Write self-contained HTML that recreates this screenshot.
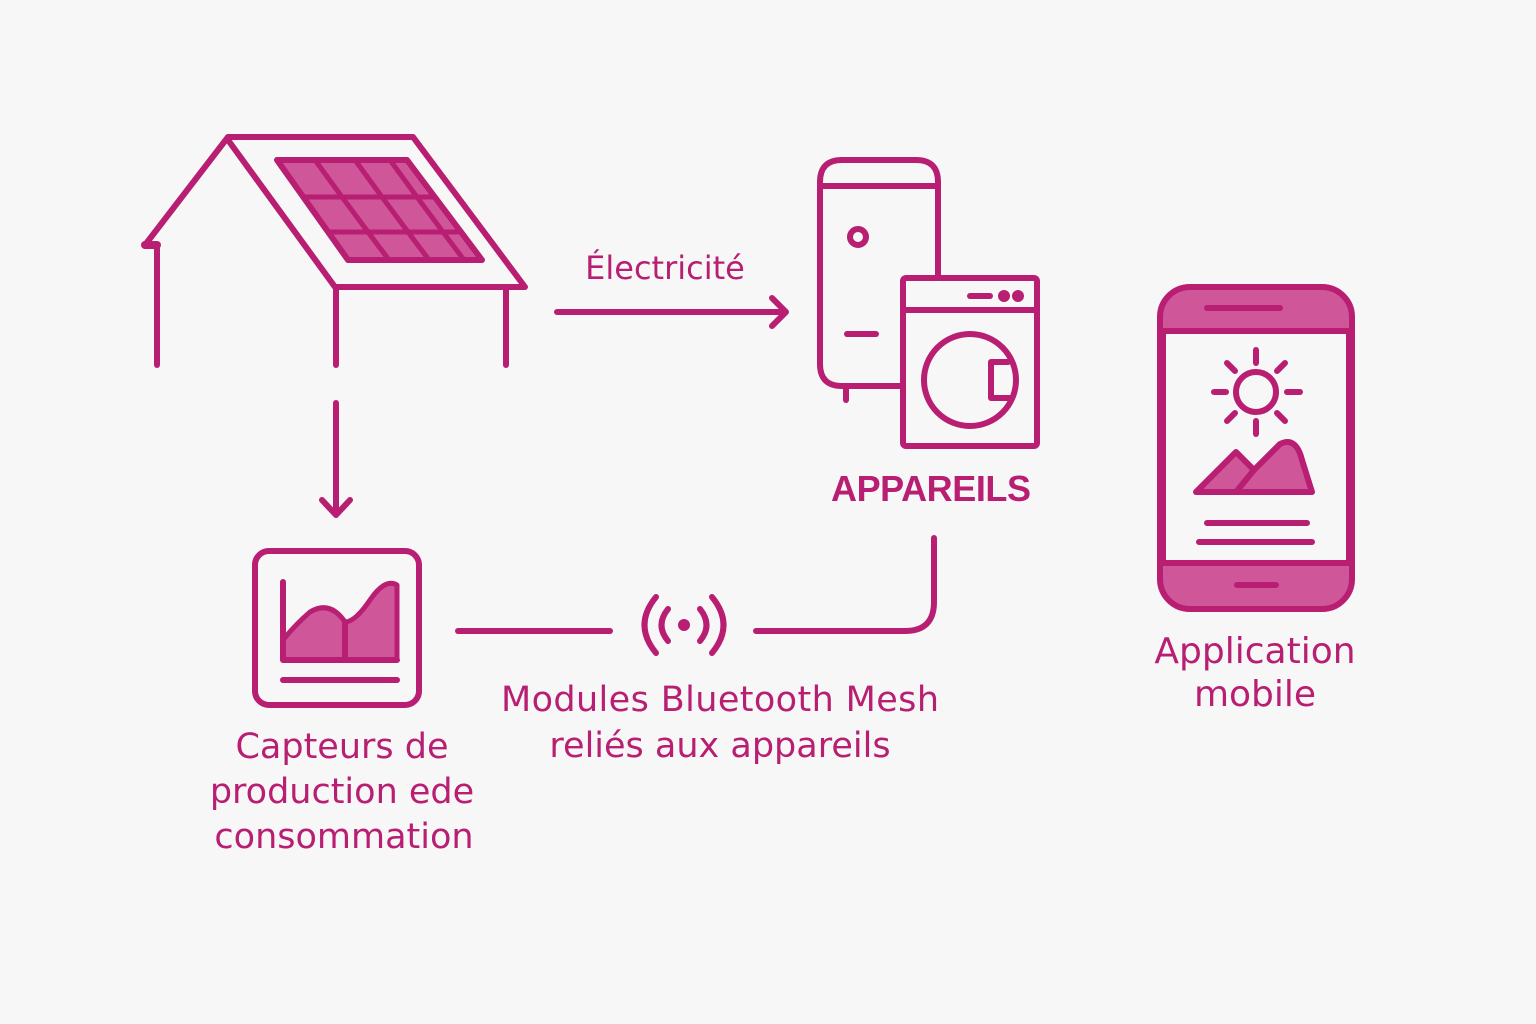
<!DOCTYPE html>
<html><head><meta charset="utf-8"><style>
html,body{margin:0;padding:0;background:#f7f7f7;}
svg{display:block;}
text{font-family:"DejaVu Sans","Liberation Sans",sans-serif;fill:#b81e72;}
</style></head><body>
<svg width="1536" height="1024" viewBox="0 0 1536 1024" xmlns="http://www.w3.org/2000/svg">
<rect width="1536" height="1024" fill="#f7f7f7"/>
<g fill="none" stroke="#b81e72" stroke-width="6" stroke-linecap="round" stroke-linejoin="round">
<!-- house -->
<path d="M157,365 V245 M145,245 L228,137 M228,137 H413 L525,287 H335 L228,140" />
<path d="M145,245 L157,245" stroke-width="8"/>
<path d="M336,290 V365 M506,290 V365"/>
<path d="M277,160 H407 L482,260 H348 Z" fill="#d0569a" stroke-width="6"/>
<path d="M304,197 H434 M329,232 H460 M315,160 L342,197 M355,160 L382,197 M390,160 L417,197 M342,197 L368,232 M382,197 L408,232 M417,197 L443,232 M368,232 L389,260 M408,232 L429,260 M443,232 L464,260" stroke-width="5"/>
<!-- arrows -->
<path d="M336,403 V515 M322,500 L336,515 L350,500"/>
<path d="M557,312 H786 M772,298 L786,312 L772,326"/>
<!-- boiler -->
<path d="M846,388 V400"/>
<path d="M903,386 H842 Q820,386 820,364 V182 Q820,160 842,160 H916 Q938,160 938,182 V278"/>
<path d="M822,186 H936"/>
<circle cx="858" cy="237" r="8"/>
<path d="M847,334 H876"/>
<!-- washer -->
<rect x="903" y="278" width="134" height="168" rx="3"/>
<path d="M903,310 H1037"/>
<path d="M970,296 H990" stroke-width="6"/>
<circle cx="1004" cy="296" r="3" fill="#b81e72"/>
<circle cx="1018" cy="296" r="3" fill="#b81e72"/>
<circle cx="970" cy="380" r="46"/>
<path d="M1008,362 H991 V398 H1012"/>
<!-- phone -->
<rect x="1160" y="287" width="192" height="322" rx="30" fill="#d0569a"/>
<rect x="1163" y="331" width="186" height="232" fill="#f7f7f7"/>
<path d="M1162,331 H1350 M1162,563 H1350"/>
<path d="M1207,308 H1280 M1237,585 H1276"/>
<circle cx="1256" cy="392" r="20"/>
<path d="M1256,350 V363 M1256,421 V434 M1214,392 H1226 M1287,392 H1300 M1227,363 L1235,371 M1285,363 L1277,371 M1227,421 L1235,413 M1285,421 L1277,413"/>
<path d="M1196,492 L1236,452 L1254,470 L1280,444 Q1296,436 1302,460 L1312,492 Z" fill="#d0569a"/>
<path d="M1254,470 L1236,492"/>
<path d="M1207,523 H1307 M1199,542 H1312"/>
<!-- sensor -->
<rect x="255" y="551" width="164" height="154" rx="14"/>
<path d="M283,582 V660 H397 V585 Q385,578 370,600 Q355,622 345,622 Q330,600 310,612 Q295,625 283,640 Z" fill="#d0569a" stroke-width="5"/>
<path d="M283,582 V660 H397 M345,622 V660"/>
<path d="M283,680 H397"/>
<!-- bluetooth connector -->
<path d="M458,631 H610"/>
<path d="M756,631 H905 Q934,631 934,602 V538"/>
<circle cx="684" cy="625" r="6" fill="#b81e72" stroke="none"/>
<path d="M668,609 Q655,625 668,641 M700,609 Q713,625 700,641 M656,597 Q633,625 656,653 M712,597 Q735,625 712,653"/>
</g>
<text x="665" y="279" font-size="32" text-anchor="middle">Électricité</text>
<text x="931" y="501" font-size="36" text-anchor="middle" font-weight="bold" style="font-family:'Liberation Sans',sans-serif" textLength="200">APPAREILS</text>
<text x="1255" y="663" font-size="36" text-anchor="middle">Application</text>
<text x="1255" y="706" font-size="36" text-anchor="middle">mobile</text>
<text x="720" y="711" font-size="35" text-anchor="middle" textLength="438">Modules Bluetooth Mesh</text>
<text x="720" y="757" font-size="35" text-anchor="middle">reliés aux appareils</text>
<text x="342" y="758" font-size="35" text-anchor="middle">Capteurs de</text>
<text x="342" y="803" font-size="35" text-anchor="middle">production ede</text>
<text x="344" y="848" font-size="35" text-anchor="middle">consommation</text>
</svg>
</body></html>
